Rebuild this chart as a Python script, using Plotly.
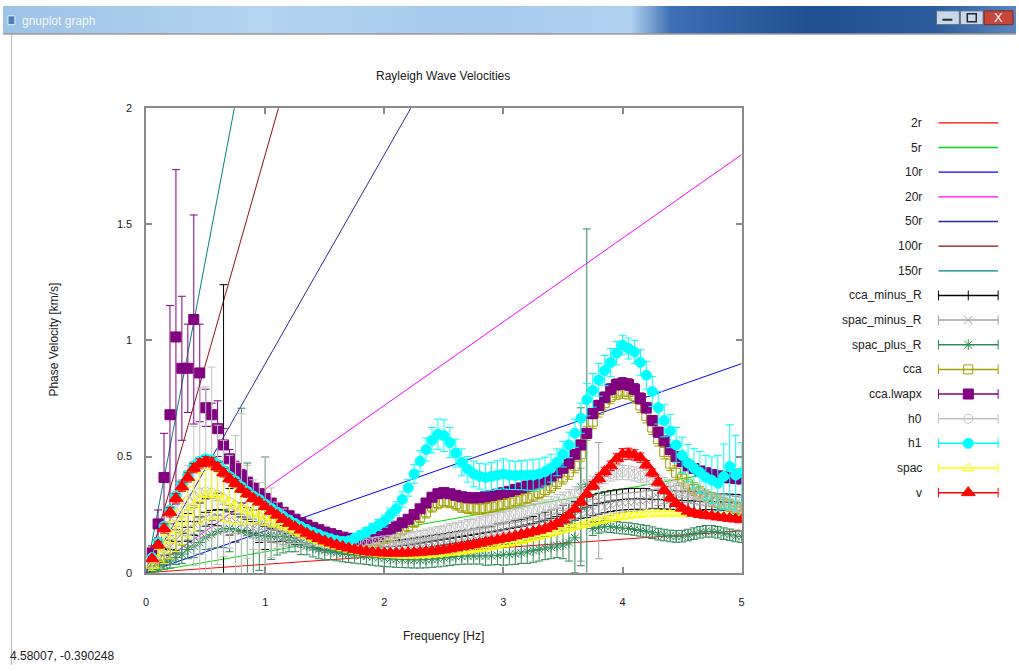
import plotly.graph_objects as go

W, H = 1019, 671

# ---------------------------------------------------------------- data
freq = [0.05, 0.10, 0.15, 0.20, 0.25, 0.30, 0.35, 0.40, 0.45, 0.50,
        0.55, 0.60, 0.65, 0.70, 0.75, 0.80, 0.85, 0.90, 0.95, 1.00,
        1.05, 1.10, 1.15, 1.20, 1.25, 1.30, 1.35, 1.40, 1.45, 1.50,
        1.55, 1.60, 1.65, 1.70, 1.75, 1.80, 1.85, 1.90, 1.95, 2.00,
        2.05, 2.10, 2.15, 2.20, 2.25, 2.30, 2.35, 2.40, 2.45, 2.50,
        2.55, 2.60, 2.65, 2.70, 2.75, 2.80, 2.85, 2.90, 2.95, 3.00,
        3.05, 3.10, 3.15, 3.20, 3.25, 3.30, 3.35, 3.40, 3.45, 3.50,
        3.55, 3.60, 3.65, 3.70, 3.75, 3.80, 3.85, 3.90, 3.95, 4.00,
        4.05, 4.10, 4.15, 4.20, 4.25, 4.30, 4.35, 4.40, 4.45, 4.50,
        4.55, 4.60, 4.65, 4.70, 4.75, 4.80, 4.85, 4.90, 4.95, 5.00]

# reference lines: phase velocity reached at 5 Hz
ref_names = ["2r", "5r", "10r", "20r", "50r", "100r", "150r"]
ref_v_at_5hz = [0.18, 0.45, 0.90, 1.80, 4.50, 9.00, 13.50]
ref_colors = ["#ff0000", "#00e000", "#0000ff", "#ff00ff", "#2a2a9c", "#8b1010", "#008080"]

cca_minus_R = [0.02, 0.05, 0.075, 0.10, 0.135, 0.17, 0.195, 0.22, 0.24, 0.26,
               0.268, 0.272, 0.27, 0.262, 0.252, 0.24, 0.23, 0.22, 0.21, 0.20,
               0.192, 0.184, 0.176, 0.168, 0.161, 0.154, 0.147, 0.14, 0.134, 0.128,
               0.123, 0.119, 0.115, 0.112, 0.11, 0.109, 0.108, 0.108, 0.109, 0.11,
               0.112, 0.114, 0.117, 0.12, 0.124, 0.128, 0.132, 0.136, 0.14, 0.144,
               0.148, 0.152, 0.156, 0.16, 0.164, 0.168, 0.172, 0.176, 0.18, 0.185,
               0.19, 0.195, 0.20, 0.206, 0.212, 0.219, 0.226, 0.234, 0.242, 0.25,
               0.258, 0.266, 0.274, 0.282, 0.29, 0.297, 0.303, 0.308, 0.312, 0.315,
               0.317, 0.318, 0.318, 0.317, 0.316, 0.315, 0.314, 0.313, 0.312, 0.311,
               0.31, 0.309, 0.308, 0.307, 0.306, 0.305, 0.304, 0.303, 0.302, 0.30]
cca_minus_R_err = [0.01, 0.02, 0.03, 0.04, 0.05, 0.05, 0.06, 0.06, 0.06, 0.06,
                   0.06, 0.07, 0.97, 0.10, 0.12, 0.06, 0.05, 0.05, 0.08, 0.10,
                   0.06, 0.05, 0.04, 0.04, 0.04, 0.03, 0.03, 0.03, 0.03, 0.03,
                   0.025, 0.025, 0.025, 0.025, 0.025, 0.025, 0.025, 0.025, 0.025, 0.025,
                   0.025, 0.025, 0.025, 0.025, 0.025, 0.025, 0.025, 0.025, 0.025, 0.025,
                   0.025, 0.025, 0.025, 0.025, 0.025, 0.025, 0.025, 0.025, 0.03, 0.03,
                   0.03, 0.03, 0.03, 0.03, 0.03, 0.035, 0.035, 0.035, 0.035, 0.04,
                   0.04, 0.04, 0.04, 0.045, 0.045, 0.045, 0.045, 0.045, 0.045, 0.045,
                   0.045, 0.045, 0.045, 0.045, 0.04, 0.04, 0.04, 0.04, 0.04, 0.04,
                   0.04, 0.04, 0.04, 0.035, 0.035, 0.035, 0.035, 0.035, 0.035, 0.035]

spac_minus_R = [0.02, 0.05, 0.08, 0.11, 0.14, 0.17, 0.19, 0.21, 0.225, 0.235,
                0.24, 0.24, 0.235, 0.228, 0.22, 0.21, 0.20, 0.19, 0.18, 0.172,
                0.165, 0.158, 0.151, 0.145, 0.139, 0.133, 0.127, 0.122, 0.117, 0.112,
                0.108, 0.104, 0.10, 0.098, 0.097, 0.097, 0.098, 0.10, 0.103, 0.106,
                0.109, 0.112, 0.115, 0.118, 0.122, 0.125, 0.128, 0.131, 0.135, 0.139,
                0.143, 0.147, 0.151, 0.155, 0.159, 0.163, 0.167, 0.171, 0.175, 0.179,
                0.183, 0.187, 0.191, 0.196, 0.20, 0.205, 0.21, 0.216, 0.222, 0.228,
                0.235, 0.243, 0.25, 0.258, 0.266, 0.31, 0.283, 0.29, 0.296, 0.30,
                0.303, 0.305, 0.308, 0.312, 0.318, 0.325, 0.332, 0.337, 0.34, 0.338,
                0.333, 0.327, 0.322, 0.318, 0.314, 0.31, 0.306, 0.302, 0.298, 0.295]
spac_minus_R_err = [0.01, 0.02, 0.03, 0.05, 0.06, 0.07, 0.08, 0.08, 0.08, 0.08,
                    0.08, 0.07, 0.06, 0.05, 0.05, 0.04, 0.04, 0.04, 0.04, 0.035,
                    0.03, 0.03, 0.03, 0.03, 0.025, 0.025, 0.025, 0.025, 0.025, 0.025,
                    0.02, 0.02, 0.02, 0.02, 0.02, 0.02, 0.02, 0.02, 0.02, 0.02,
                    0.02, 0.02, 0.02, 0.02, 0.02, 0.02, 0.02, 0.02, 0.025, 0.025,
                    0.025, 0.025, 0.025, 0.025, 0.025, 0.025, 0.025, 0.025, 0.03, 0.03,
                    0.03, 0.03, 0.03, 0.03, 0.03, 0.03, 0.035, 0.035, 0.035, 0.04,
                    0.04, 0.05, 0.20, 0.05, 0.05, 0.25, 0.05, 0.045, 0.04, 0.04,
                    0.04, 0.04, 0.04, 0.04, 0.04, 0.035, 0.035, 0.035, 0.035, 0.035,
                    0.03, 0.03, 0.03, 0.03, 0.03, 0.03, 0.03, 0.03, 0.03, 0.03]

spac_plus_R = [0.01, 0.02, 0.035, 0.05, 0.065, 0.08, 0.10, 0.115, 0.13, 0.15,
               0.165, 0.178, 0.188, 0.19, 0.185, 0.178, 0.172, 0.166, 0.16, 0.158,
               0.157, 0.156, 0.155, 0.15, 0.14, 0.128, 0.117, 0.108, 0.10, 0.095,
               0.09, 0.086, 0.082, 0.079, 0.076, 0.073, 0.07, 0.067, 0.064, 0.062,
               0.06, 0.058, 0.057, 0.056, 0.055, 0.055, 0.056, 0.058, 0.06, 0.063,
               0.066, 0.069, 0.071, 0.072, 0.072, 0.072, 0.072, 0.073, 0.075, 0.077,
               0.079, 0.081, 0.085, 0.09, 0.095, 0.10, 0.106, 0.11, 0.115, 0.12,
               0.13, 0.15, 0.37, 0.38, 0.19, 0.195, 0.20, 0.198, 0.195, 0.192,
               0.19, 0.186, 0.182, 0.178, 0.172, 0.166, 0.162, 0.158, 0.156, 0.157,
               0.162, 0.168, 0.174, 0.178, 0.178, 0.174, 0.168, 0.163, 0.158, 0.155]
spac_plus_R_err = [0.01, 0.015, 0.02, 0.03, 0.03, 0.04, 0.04, 0.05, 0.05, 0.05,
                   0.06, 0.07, 0.08, 0.10, 0.25, 0.53, 0.30, 0.20, 0.15, 0.34,
                   0.10, 0.08, 0.07, 0.06, 0.05, 0.05, 0.04, 0.04, 0.04, 0.04,
                   0.035, 0.035, 0.035, 0.035, 0.035, 0.035, 0.035, 0.035, 0.035, 0.035,
                   0.035, 0.035, 0.035, 0.035, 0.035, 0.035, 0.035, 0.035, 0.035, 0.035,
                   0.035, 0.035, 0.035, 0.035, 0.035, 0.035, 0.04, 0.04, 0.04, 0.045,
                   0.045, 0.045, 0.045, 0.05, 0.05, 0.05, 0.05, 0.05, 0.05, 0.06,
                   0.08, 0.15, 0.34, 1.10, 0.03, 0.025, 0.025, 0.025, 0.025, 0.025,
                   0.025, 0.025, 0.025, 0.025, 0.025, 0.025, 0.025, 0.025, 0.025, 0.025,
                   0.025, 0.025, 0.025, 0.025, 0.025, 0.025, 0.025, 0.025, 0.025, 0.025]

cca = [0.06, 0.125, 0.195, 0.265, 0.325, 0.375, 0.415, 0.455, 0.475, 0.485,
       0.48, 0.46, 0.435, 0.41, 0.39, 0.365, 0.345, 0.325, 0.31, 0.29,
       0.27, 0.252, 0.235, 0.218, 0.203, 0.188, 0.175, 0.163, 0.152, 0.142,
       0.133, 0.126, 0.12, 0.116, 0.115, 0.117, 0.122, 0.128, 0.137, 0.147,
       0.157, 0.17, 0.185, 0.20, 0.218, 0.238, 0.26, 0.285, 0.30, 0.308,
       0.305, 0.295, 0.285, 0.28, 0.277, 0.276, 0.278, 0.284, 0.29, 0.296,
       0.302, 0.308, 0.315, 0.322, 0.332, 0.343, 0.356, 0.372, 0.39, 0.41,
       0.432, 0.46, 0.51, 0.60, 0.65, 0.70, 0.73, 0.757, 0.775, 0.78,
       0.778, 0.76, 0.72, 0.675, 0.625, 0.575, 0.52, 0.47, 0.43, 0.405,
       0.38, 0.36, 0.345, 0.33, 0.318, 0.307, 0.297, 0.288, 0.28, 0.273]
cca_err = [0.01, 0.015, 0.018, 0.02, 0.02, 0.02, 0.02, 0.02, 0.02, 0.02,
           0.02, 0.02, 0.02, 0.02, 0.02, 0.02, 0.02, 0.02, 0.02, 0.02,
           0.018, 0.018, 0.018, 0.018, 0.018, 0.018, 0.018, 0.018, 0.018, 0.018,
           0.018, 0.018, 0.018, 0.018, 0.018, 0.018, 0.02, 0.02, 0.02, 0.02,
           0.02, 0.02, 0.022, 0.022, 0.022, 0.022, 0.024, 0.024, 0.025, 0.025,
           0.025, 0.025, 0.025, 0.025, 0.025, 0.025, 0.025, 0.025, 0.025, 0.025,
           0.025, 0.025, 0.025, 0.025, 0.025, 0.025, 0.027, 0.027, 0.028, 0.028,
           0.03, 0.03, 0.03, 0.03, 0.03, 0.03, 0.03, 0.03, 0.03, 0.03,
           0.03, 0.03, 0.03, 0.03, 0.03, 0.03, 0.03, 0.03, 0.03, 0.028,
           0.028, 0.027, 0.027, 0.026, 0.026, 0.025, 0.025, 0.025, 0.025, 0.025]

cca_lwapx = [0.085, 0.21, 0.41, 0.68, 1.015, 0.88, 0.88, 1.09, 0.86, 0.71,
             0.68, 0.62, 0.55, 0.49, 0.45, 0.42, 0.39, 0.365, 0.34, 0.32,
             0.30, 0.28, 0.26, 0.245, 0.23, 0.215, 0.205, 0.195, 0.185, 0.175,
             0.168, 0.16, 0.153, 0.148, 0.145, 0.144, 0.148, 0.155, 0.165, 0.175,
             0.186, 0.20, 0.215, 0.23, 0.25, 0.275, 0.30, 0.325, 0.34, 0.345,
             0.34, 0.333, 0.327, 0.323, 0.322, 0.323, 0.327, 0.332, 0.338, 0.344,
             0.35, 0.358, 0.365, 0.373, 0.382, 0.39, 0.40, 0.415, 0.43, 0.45,
             0.47, 0.51, 0.55, 0.60, 0.685, 0.72, 0.755, 0.79, 0.81, 0.815,
             0.81, 0.79, 0.75, 0.71, 0.655, 0.605, 0.567, 0.53, 0.50, 0.478,
             0.46, 0.448, 0.438, 0.43, 0.423, 0.417, 0.412, 0.408, 0.405, 0.403]
cca_lwapx_err = [0.03, 0.06, 0.19, 0.47, 0.72, 0.31, 0.19, 0.45, 0.21, 0.08,
                 0.05, 0.12, 0.07, 0.04, 0.03, 0.025, 0.02, 0.02, 0.02, 0.018,
                 0.016, 0.015, 0.015, 0.014, 0.014, 0.013, 0.013, 0.012, 0.012, 0.012,
                 0.012, 0.012, 0.012, 0.012, 0.012, 0.012, 0.012, 0.013, 0.013, 0.013,
                 0.013, 0.014, 0.014, 0.015, 0.015, 0.016, 0.016, 0.017, 0.017, 0.017,
                 0.017, 0.016, 0.016, 0.016, 0.016, 0.016, 0.016, 0.016, 0.016, 0.016,
                 0.016, 0.016, 0.016, 0.017, 0.017, 0.017, 0.018, 0.018, 0.018, 0.019,
                 0.019, 0.02, 0.02, 0.021, 0.022, 0.022, 0.023, 0.024, 0.024, 0.025,
                 0.025, 0.024, 0.024, 0.023, 0.022, 0.021, 0.02, 0.02, 0.019, 0.018,
                 0.018, 0.017, 0.017, 0.016, 0.016, 0.016, 0.015, 0.015, 0.015, 0.015]

h0 = [0.04, 0.09, 0.14, 0.19, 0.24, 0.28, 0.31, 0.33, 0.345, 0.35,
      0.345, 0.335, 0.32, 0.305, 0.29, 0.275, 0.262, 0.25, 0.238, 0.226,
      0.215, 0.204, 0.194, 0.184, 0.175, 0.166, 0.158, 0.15, 0.143, 0.137,
      0.132, 0.128, 0.125, 0.123, 0.122, 0.123, 0.125, 0.127, 0.13, 0.133,
      0.136, 0.14, 0.144, 0.148, 0.153, 0.158, 0.163, 0.168, 0.174, 0.18,
      0.186, 0.192, 0.198, 0.204, 0.21, 0.216, 0.222, 0.228, 0.234, 0.24,
      0.246, 0.252, 0.258, 0.265, 0.272, 0.28, 0.288, 0.297, 0.306, 0.317,
      0.328, 0.34, 0.355, 0.37, 0.385, 0.40, 0.413, 0.424, 0.43, 0.432,
      0.43, 0.425, 0.418, 0.41, 0.40, 0.39, 0.38, 0.372, 0.365, 0.357,
      0.35, 0.342, 0.335, 0.325, 0.316, 0.308, 0.30, 0.293, 0.287, 0.282]
h0_err = [0.02, 0.03, 0.05, 0.08, 0.1, 0.12, 0.15, 0.3, 0.45, 0.45,
          0.54, 0.3, 0.25, 0.2, 0.3, 0.41, 0.2, 0.15, 0.15, 0.27,
          0.15, 0.1, 0.08, 0.06, 0.05, 0.04, 0.04, 0.03, 0.03, 0.03,
          0.025, 0.025, 0.025, 0.025, 0.025, 0.025, 0.025, 0.025, 0.025, 0.025,
          0.025, 0.025, 0.025, 0.025, 0.025, 0.025, 0.025, 0.025, 0.025, 0.025,
          0.025, 0.025, 0.025, 0.025, 0.025, 0.025, 0.025, 0.025, 0.025, 0.025,
          0.025, 0.025, 0.025, 0.025, 0.025, 0.025, 0.025, 0.03, 0.03, 0.03,
          0.03, 0.03, 0.03, 0.03, 0.03, 0.03, 0.03, 0.03, 0.03, 0.03,
          0.03, 0.03, 0.03, 0.03, 0.03, 0.03, 0.03, 0.03, 0.03, 0.03,
          0.025, 0.025, 0.025, 0.025, 0.025, 0.025, 0.025, 0.025, 0.025, 0.025]

h1 = [0.065, 0.13, 0.20, 0.27, 0.33, 0.38, 0.42, 0.46, 0.48, 0.49,
      0.485, 0.465, 0.44, 0.415, 0.395, 0.37, 0.35, 0.33, 0.315, 0.295,
      0.277, 0.26, 0.243, 0.227, 0.212, 0.198, 0.186, 0.174, 0.164, 0.154,
      0.146, 0.139, 0.135, 0.137, 0.148, 0.162, 0.175, 0.19, 0.205, 0.222,
      0.25, 0.275, 0.315, 0.365, 0.425, 0.48, 0.53, 0.57, 0.596, 0.59,
      0.56, 0.515, 0.475, 0.445, 0.425, 0.415, 0.41, 0.415, 0.42, 0.425,
      0.42, 0.418, 0.42, 0.42, 0.42, 0.425, 0.435, 0.45, 0.475, 0.51,
      0.55, 0.60, 0.665, 0.745, 0.785, 0.83, 0.87, 0.905, 0.945, 0.98,
      0.965, 0.95, 0.905, 0.85, 0.78, 0.71, 0.655, 0.61, 0.55, 0.505,
      0.472, 0.45, 0.432, 0.41, 0.398, 0.385, 0.414, 0.457, 0.42, 0.43]
h1_err = [0.01, 0.012, 0.014, 0.015, 0.016, 0.017, 0.018, 0.018, 0.018, 0.018,
          0.018, 0.017, 0.017, 0.016, 0.016, 0.015, 0.015, 0.014, 0.014, 0.014,
          0.013, 0.013, 0.013, 0.012, 0.012, 0.012, 0.012, 0.012, 0.012, 0.012,
          0.012, 0.012, 0.013, 0.014, 0.016, 0.018, 0.02, 0.022, 0.024, 0.026,
          0.028, 0.03, 0.033, 0.036, 0.04, 0.045, 0.05, 0.055, 0.065, 0.068,
          0.065, 0.06, 0.058, 0.055, 0.055, 0.055, 0.058, 0.06, 0.062, 0.065,
          0.062, 0.06, 0.063, 0.065, 0.066, 0.065, 0.062, 0.06, 0.058, 0.055,
          0.055, 0.06, 0.065, 0.07, 0.072, 0.07, 0.065, 0.06, 0.05, 0.042,
          0.045, 0.05, 0.055, 0.06, 0.065, 0.07, 0.07, 0.072, 0.075, 0.078,
          0.08, 0.085, 0.09, 0.095, 0.10, 0.12, 0.14, 0.18, 0.17, 0.13]

spac = [0.03, 0.06, 0.10, 0.14, 0.18, 0.22, 0.26, 0.29, 0.32, 0.335,
        0.34, 0.335, 0.32, 0.305, 0.29, 0.28, 0.27, 0.26, 0.25, 0.24,
        0.23, 0.218, 0.206, 0.194, 0.182, 0.17, 0.158, 0.147, 0.137, 0.128,
        0.12, 0.112, 0.105, 0.099, 0.094, 0.09, 0.086, 0.083, 0.08, 0.078,
        0.076, 0.075, 0.074, 0.074, 0.074, 0.075, 0.076, 0.078, 0.08, 0.082,
        0.085, 0.088, 0.091, 0.095, 0.099, 0.103, 0.107, 0.111, 0.116, 0.121,
        0.126, 0.131, 0.137, 0.143, 0.149, 0.155, 0.162, 0.169, 0.176, 0.183,
        0.19, 0.197, 0.204, 0.21, 0.216, 0.222, 0.228, 0.233, 0.238, 0.242,
        0.245, 0.248, 0.25, 0.252, 0.253, 0.254, 0.255, 0.255, 0.255, 0.255,
        0.254, 0.253, 0.252, 0.25, 0.248, 0.245, 0.242, 0.239, 0.236, 0.233]
spac_err = [0.02, 0.04, 0.06, 0.08, 0.09, 0.10, 0.11, 0.11, 0.11, 0.11,
            0.11, 0.10, 0.10, 0.09, 0.08, 0.07, 0.06, 0.05, 0.04, 0.035,
            0.03, 0.025, 0.02, 0.018, 0.016, 0.014, 0.012, 0.011, 0.01, 0.01,
            0.009, 0.009, 0.008, 0.008, 0.008, 0.008, 0.008, 0.008, 0.008, 0.008,
            0.008, 0.008, 0.008, 0.008, 0.008, 0.008, 0.008, 0.008, 0.008, 0.008,
            0.008, 0.008, 0.008, 0.008, 0.008, 0.008, 0.008, 0.008, 0.008, 0.008,
            0.009, 0.009, 0.009, 0.009, 0.009, 0.01, 0.01, 0.01, 0.01, 0.01,
            0.01, 0.01, 0.01, 0.01, 0.01, 0.01, 0.01, 0.01, 0.01, 0.01,
            0.01, 0.01, 0.01, 0.01, 0.01, 0.01, 0.01, 0.01, 0.01, 0.01,
            0.01, 0.01, 0.01, 0.01, 0.01, 0.01, 0.01, 0.01, 0.01, 0.01]

v = [0.06, 0.12, 0.19, 0.26, 0.32, 0.37, 0.41, 0.45, 0.47, 0.48,
     0.475, 0.455, 0.43, 0.405, 0.385, 0.36, 0.34, 0.32, 0.305, 0.285,
     0.265, 0.248, 0.23, 0.213, 0.198, 0.184, 0.17, 0.158, 0.147, 0.137,
     0.128, 0.12, 0.113, 0.106, 0.10, 0.095, 0.091, 0.088, 0.086, 0.085,
     0.084, 0.084, 0.084, 0.085, 0.086, 0.088, 0.09, 0.092, 0.095, 0.098,
     0.102, 0.107, 0.112, 0.117, 0.122, 0.127, 0.132, 0.137, 0.142, 0.147,
     0.152, 0.158, 0.164, 0.17, 0.176, 0.183, 0.19, 0.20, 0.212, 0.228,
     0.248, 0.275, 0.305, 0.34, 0.375, 0.405, 0.435, 0.46, 0.49, 0.51,
     0.512, 0.507, 0.495, 0.465, 0.43, 0.39, 0.355, 0.322, 0.298, 0.278,
     0.265, 0.256, 0.251, 0.247, 0.244, 0.24, 0.237, 0.234, 0.231, 0.228]
v_err = [0.01, 0.015, 0.02, 0.02, 0.02, 0.02, 0.02, 0.02, 0.02, 0.02,
         0.02, 0.02, 0.018, 0.018, 0.016, 0.015, 0.015, 0.014, 0.014, 0.013,
         0.012, 0.012, 0.011, 0.011, 0.01, 0.01, 0.01, 0.009, 0.009, 0.009,
         0.008, 0.008, 0.008, 0.008, 0.008, 0.008, 0.008, 0.008, 0.008, 0.008,
         0.008, 0.008, 0.008, 0.008, 0.008, 0.008, 0.008, 0.008, 0.008, 0.008,
         0.008, 0.008, 0.008, 0.008, 0.008, 0.008, 0.008, 0.008, 0.008, 0.008,
         0.009, 0.009, 0.009, 0.01, 0.01, 0.01, 0.011, 0.011, 0.012, 0.012,
         0.013, 0.014, 0.015, 0.016, 0.017, 0.018, 0.019, 0.02, 0.022, 0.024,
         0.024, 0.022, 0.02, 0.018, 0.017, 0.016, 0.015, 0.014, 0.013, 0.012,
         0.011, 0.011, 0.01, 0.01, 0.01, 0.01, 0.01, 0.01, 0.01, 0.01]

x_ticks = [0, 1, 2, 3, 4, 5]
y_ticks = [0, 0.5, 1, 1.5, 2]
y_tick_text = ["0", "0.5", "1", "1.5", "2"]

# ---------------------------------------------------------------- series styles
series = [
    ("cca_minus_R", cca_minus_R, cca_minus_R_err, "#000000", "line-ew-open", 7),
    ("spac_minus_R", spac_minus_R, spac_minus_R_err, "#a0a0a0", "x-thin-open", 8),
    ("spac_plus_R", spac_plus_R, spac_plus_R_err, "#2e8b57", "asterisk-open", 9),
    ("cca", cca, cca_err, "#a0a000", "square-open", 9),
    ("cca.lwapx", cca_lwapx, cca_lwapx_err, "#800080", "square", 10),
    ("h0", h0, h0_err, "#c0c0c0", "circle-open", 9),
    ("h1", h1, h1_err, "#00ffff", "circle", 10),
    ("spac", spac, spac_err, "#ffff00", "triangle-up-open", 10),
    ("v", v, v_err, "#ff0000", "triangle-up", 12),
]

FONT = "Liberation Sans"
fig = go.Figure()

for name, end, col in zip(ref_names, ref_v_at_5hz, ref_colors):
    fig.add_trace(go.Scatter(x=[0, 5], y=[0, end], mode="lines", name=name,
                             line=dict(color=col, width=1), showlegend=False,
                             hoverinfo="skip"))

for name, vals, errs, col, sym, size in series:
    fig.add_trace(go.Scatter(
        x=freq, y=vals, mode="markers", name=name, showlegend=False,
        marker=dict(symbol=sym, size=size, color=col, line=dict(color=col, width=1)),
        error_y=dict(type="data", array=errs, visible=True, color=col,
                     thickness=1, width=4),
    ))

# ---------------------------------------------------------------- plot frame
# plot area given in page pixels
X0, X1, Y0, Y1 = 144, 743, 104, 577
fig.update_layout(
    width=W, height=H, autosize=False,
    margin=dict(l=0, r=0, t=0, b=0, pad=0),
    paper_bgcolor="white", plot_bgcolor="rgba(0,0,0,0)",
    font=dict(family=FONT, size=12, color="#202020"),
    showlegend=False,
    xaxis=dict(domain=[X0 / W, X1 / W], range=[0, 5], tickvals=x_ticks,
               showgrid=False, zeroline=False, showline=True, mirror="ticks",
               linecolor="#8a8a8a", linewidth=1.5, ticks="inside", ticklen=6,
               tickcolor="#8a8a8a", tickwidth=1.5, ticklabelstandoff=18,
               tickfont=dict(size=11, color="#202020")),
    yaxis=dict(domain=[1 - Y1 / H, 1 - Y0 / H], range=[0, 2],
               tickvals=y_ticks, ticktext=y_tick_text, showgrid=False,
               zeroline=False, showline=True, mirror="ticks", linecolor="#8a8a8a",
               linewidth=1.5, ticks="inside", ticklen=6, tickcolor="#8a8a8a",
               tickwidth=1.5, ticklabelstandoff=10,
               tickfont=dict(size=11, color="#202020")),
    # overlay in page-pixel coordinates for the key and window decoration
    xaxis2=dict(domain=[0, 1], range=[0, W], visible=False, anchor="y2",
                fixedrange=True),
    yaxis2=dict(domain=[0, 1], range=[H, 0], visible=False, anchor="x2",
                fixedrange=True),
)

annotations = [
    dict(x=443, y=71, text="Rayleigh Wave Velocities"),
    dict(x=443, y=641, text="Frequency [Hz]"),
    dict(x=51, y=340, text="Phase Velocity [km/s]", textangle=-90),
    dict(x=5, y=662, text="4.58007, -0.390248", xanchor="left"),
]
for a in annotations:
    a.setdefault("xanchor", "center")
    fig.add_annotation(xref="x2", yref="y2", showarrow=False, yanchor="middle",
                       font=dict(family=FONT, size=12, color="#202020"), **a)

# ---------------------------------------------------------------- key
KEY_Y0, KEY_DY = 119, 25.1
KEY_TEXT_X, KEY_L, KEY_R = 926, 941, 1001
key_entries = [(n, c, None, None) for n, c in zip(ref_names, ref_colors)] + \
              [(n, c, s, z) for n, _, _, c, s, z in series]
for i, (name, col, sym, size) in enumerate(key_entries):
    yy = KEY_Y0 + i * KEY_DY
    fig.add_annotation(xref="x2", yref="y2", x=KEY_TEXT_X, y=yy, text=name,
                       showarrow=False, xanchor="right", yanchor="middle",
                       font=dict(family=FONT, size=12, color="#202020"))
    fig.add_trace(go.Scatter(x=[KEY_L, KEY_R], y=[yy, yy], mode="lines",
                             xaxis="x2", yaxis="y2", hoverinfo="skip",
                             line=dict(color=col, width=1.5 if sym else 1.3),
                             showlegend=False))
    if sym:
        fig.add_trace(go.Scatter(x=[KEY_L, KEY_R], y=[yy, yy], mode="markers",
                                 xaxis="x2", yaxis="y2", hoverinfo="skip",
                                 marker=dict(symbol="line-ns-open", size=7, color=col,
                                             line=dict(color=col, width=1)),
                                 showlegend=False))
        mid_sym = "line-ns-open" if sym == "line-ew-open" else sym
        fig.add_trace(go.Scatter(x=[(KEY_L + KEY_R) / 2], y=[yy], mode="markers",
                                 xaxis="x2", yaxis="y2", hoverinfo="skip",
                                 marker=dict(symbol=mid_sym, size=size, color=col,
                                             line=dict(color=col, width=1)),
                                 showlegend=False))

# ---------------------------------------------------------------- window title bar
fig.add_trace(go.Scatter(
    x=[0, W, W, 0, 0], y=[0, 0, 28, 28, 0], mode="lines",
    fill="toself", xaxis="x2", yaxis="y2", hoverinfo="skip", showlegend=False,
    line=dict(width=0, color="rgba(0,0,0,0)"),
    fillgradient=dict(type="horizontal", colorscale=[
        [0.0, "#9cc2e6"], [0.25, "#b4d4f0"], [0.45, "#a6c9ec"], [0.62, "#b0d0f0"],
        [0.66, "#3d6fb4"], [0.8, "#1f4f92"], [0.92, "#2c5c9e"], [1.0, "#5a86c0"]]),
))
shapes = [
    dict(type="line", x0=0, x1=W, y0=28.5, y1=28.5, line=dict(color="#6a6a6a", width=1)),
    dict(type="line", x0=8.5, x1=8.5, y0=29, y1=H, line=dict(color="#b8b8b8", width=1)),
    dict(type="rect", x0=5, x1=12, y0=10, y1=19, fillcolor="#4d7fb8",
         line=dict(color="#e8f0f8", width=1)),
    dict(type="rect", x0=939, x1=962, y0=5, y1=19, fillcolor="#c8d8ea",
         line=dict(color="#5a6e88", width=1)),
    dict(type="rect", x0=963, x1=986, y0=5, y1=19, fillcolor="#c8d8ea",
         line=dict(color="#5a6e88", width=1)),
    dict(type="rect", x0=987, x1=1016, y0=5, y1=19, fillcolor="#c8463a",
         line=dict(color="#7a2a22", width=1)),
    dict(type="line", x0=945, x1=955, y0=14, y1=14, line=dict(color="#202830", width=2)),
    dict(type="rect", x0=970, x1=979, y0=8, y1=16, line=dict(color="#202830", width=1.5)),
]
for s in shapes:
    fig.add_shape(xref="x2", yref="y2", layer="above", **s)
fig.add_annotation(xref="x2", yref="y2", x=1001.5, y=12, text="X", showarrow=False,
                   font=dict(family=FONT, size=13, color="white"))
fig.add_annotation(xref="x2", yref="y2", x=17, y=15, text="gnuplot graph",
                   showarrow=False, xanchor="left", yanchor="middle",
                   font=dict(family=FONT, size=12, color="#f4f8fc"))

fig.write_html("out.html")
